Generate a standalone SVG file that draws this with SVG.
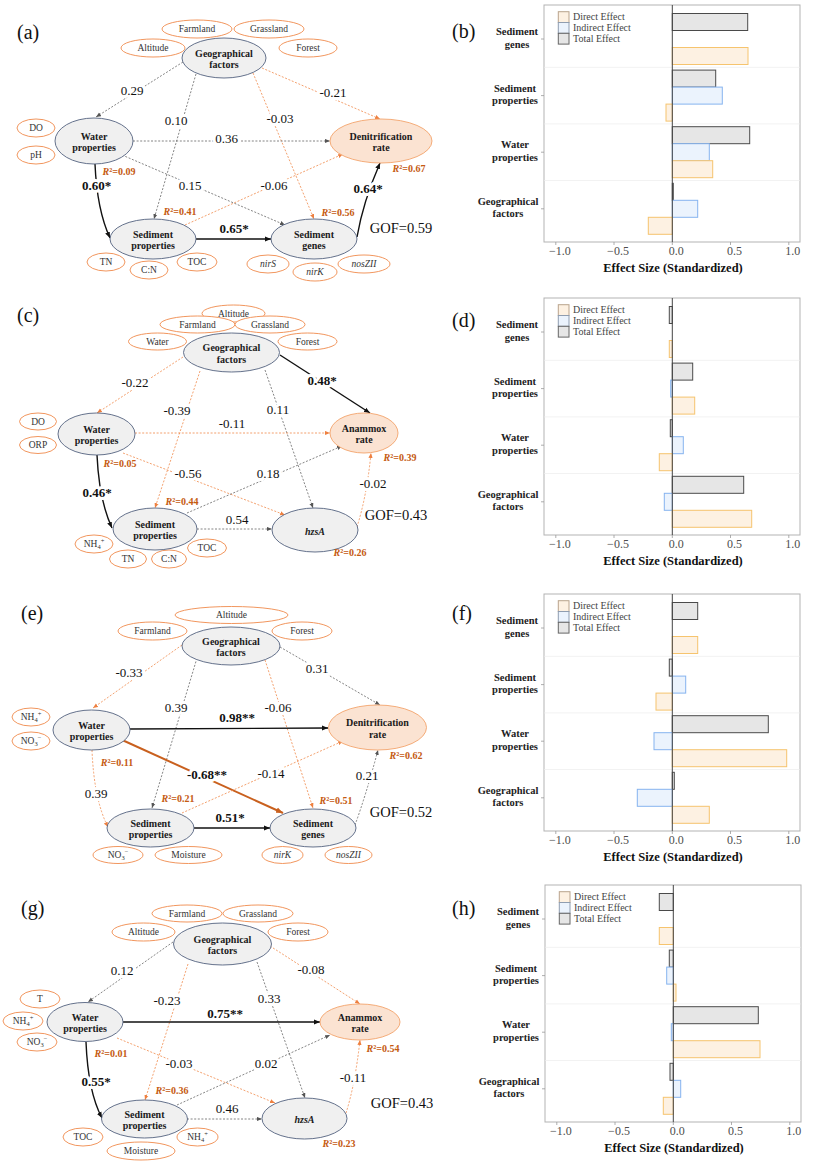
<svg xmlns="http://www.w3.org/2000/svg" width="836" height="1165" viewBox="0 0 836 1165">
<defs>
<style>
text{font-family:"Liberation Serif","Times New Roman",serif}
.pan{font-size:20px;fill:#111}
.sm{fill:#fff;stroke:#ef8a4c;stroke-width:0.9}
.st{font-size:9.5px;fill:#333;text-anchor:middle}
.it{font-style:italic}
.nd{fill:#f0f0f0;stroke:#53627f;stroke-width:0.9}
.ndo{fill:#fbe3d2;stroke:#f3a46c;stroke-width:0.9}
.nt{font-size:10px;font-weight:bold;fill:#1a1a1a;text-anchor:middle}
.dg{fill:none;stroke:#666;stroke-width:0.8;stroke-dasharray:2 1.6}
.do{fill:none;stroke:#f0894a;stroke-width:0.8;stroke-dasharray:2 1.6}
.sb{fill:none;stroke:#111;stroke-width:1.4}
.so{fill:none;stroke:#c9601e;stroke-width:2}
.pl{font-size:13px;fill:#111;text-anchor:middle;paint-order:stroke;stroke:#fff;stroke-width:6px;stroke-linejoin:round}
.pb{font-weight:bold}
.r2{font-size:10px;font-weight:bold;fill:#c55a11;text-anchor:middle}
.gof{font-size:14.5px;fill:#111;text-anchor:middle}
.pf{fill:#fff;stroke:#b3b3b3;stroke-width:1}
.bd{fill:#fdf1e2;stroke:#f6c46e;stroke-width:1}
.bi{fill:#ebf3fd;stroke:#86b3ef;stroke-width:1}
.bt{fill:#e6e6e6;stroke:#4a4a4a;stroke-width:1}
.kd{fill:#fdf1e2;stroke:#b9a38c;stroke-width:1}
.ki{fill:#ebf3fd;stroke:#8f9db0;stroke-width:1}
.kt{fill:#e6e6e6;stroke:#666;stroke-width:1}
.sep{stroke:#f2f2f2;stroke-width:1}
.zl{stroke:#444;stroke-width:1}
.tk{stroke:#999;stroke-width:0.8}
.xl{font-size:12px;fill:#4d4d4d;text-anchor:middle}
.xt{font-size:12.5px;font-weight:bold;fill:#111;text-anchor:middle}
.yl{font-size:10.5px;font-weight:bold;fill:#222;text-anchor:middle}
.lg{font-size:10px;fill:#444}
</style>
<marker id="ag" viewBox="0 0 6 6" refX="6" refY="3" markerWidth="5" markerHeight="5" orient="auto" markerUnits="userSpaceOnUse"><path d="M0,0.5 L6,3 L0,5.5 z" fill="#555"/></marker>
<marker id="ao" viewBox="0 0 6 6" refX="6" refY="3" markerWidth="5" markerHeight="5" orient="auto" markerUnits="userSpaceOnUse"><path d="M0,0.5 L6,3 L0,5.5 z" fill="#ee8040"/></marker>
<marker id="ab" viewBox="0 0 6 6" refX="6" refY="3" markerWidth="6" markerHeight="6" orient="auto" markerUnits="userSpaceOnUse"><path d="M0,0.5 L6,3 L0,5.5 z" fill="#111"/></marker>
<marker id="ar" viewBox="0 0 6 6" refX="6" refY="3" markerWidth="7" markerHeight="7" orient="auto" markerUnits="userSpaceOnUse"><path d="M0,0.5 L6,3 L0,5.5 z" fill="#c9601e"/></marker>
</defs>
<rect x="0" y="0" width="836" height="1165" fill="#fff"/>

<!-- ================= Panel (a) ================= -->
<g id="panel-a">
<text class="pan" x="17" y="39">(a)</text>
<g id="a-connectors">
<path class="dg" d="M183,62 L96,117" marker-end="url(#ag)"/>
<path class="dg" d="M196,74 L154,219" marker-end="url(#ag)"/>
<path class="do" d="M253,73 L314,219" marker-end="url(#ao)"/>
<path class="do" d="M262,68 L380,119" marker-end="url(#ao)"/>
<path class="dg" d="M133,141 L330,141" marker-end="url(#ag)"/>
<path class="dg" d="M122,155 L285,225" marker-end="url(#ag)"/>
<path class="do" d="M185,225 L343,154" marker-end="url(#ao)"/>
<path class="sb" d="M95,164 Q97,210 110,238" marker-end="url(#ab)"/>
<path class="sb" d="M196,239 L271,239" marker-end="url(#ab)"/>
<path class="sb" d="M357,237 Q363,202 380,163" marker-end="url(#ab)"/>
<text class="pl" x="132" y="94.5">0.29</text>
<text class="pl" x="176" y="124.5">0.10</text>
<text class="pl" x="280" y="123">-0.03</text>
<text class="pl" x="333" y="96.5">-0.21</text>
<text class="pl" x="226.5" y="142.5">0.36</text>
<text class="pl" x="190" y="189.5">0.15</text>
<text class="pl" x="274" y="189.5">-0.06</text>
<text class="pl pb" x="96.5" y="190">0.60*</text>
<text class="pl pb" x="234" y="233">0.65*</text>
<text class="pl pb" x="368" y="193">0.64*</text>
</g>
<g id="a-farmland"><ellipse class="sm" cx="197" cy="29" rx="35" ry="9"/><text class="st" x="197" y="32.3">Farmland</text></g>
<g id="a-grassland"><ellipse class="sm" cx="269" cy="29" rx="35" ry="9"/><text class="st" x="269" y="32.3">Grassland</text></g>
<g id="a-altitude"><ellipse class="sm" cx="153" cy="48" rx="32" ry="9"/><text class="st" x="153" y="51.3">Altitude</text></g>
<g id="a-forest"><ellipse class="sm" cx="308" cy="48" rx="29" ry="9"/><text class="st" x="308" y="51.3">Forest</text></g>
<g id="a-do"><ellipse class="sm" cx="36" cy="128" rx="19" ry="9"/><text class="st" x="36" y="131.3">DO</text></g>
<g id="a-ph"><ellipse class="sm" cx="36" cy="155" rx="19" ry="9"/><text class="st" x="36" y="158.3">pH</text></g>
<g id="a-tn"><ellipse class="sm" cx="106" cy="262" rx="19" ry="9"/><text class="st" x="106" y="265.3">TN</text></g>
<g id="a-cn"><ellipse class="sm" cx="149" cy="270" rx="19" ry="9"/><text class="st" x="149" y="273.3">C:N</text></g>
<g id="a-toc"><ellipse class="sm" cx="197" cy="262" rx="20" ry="9"/><text class="st" x="197" y="265.3">TOC</text></g>
<g id="a-nirs"><ellipse class="sm" cx="268" cy="264" rx="21" ry="9"/><text class="st it" x="268" y="267.3">nirS</text></g>
<g id="a-nirk"><ellipse class="sm" cx="315" cy="272" rx="22" ry="9"/><text class="st it" x="315" y="275.3">nirK</text></g>
<g id="a-noszii"><ellipse class="sm" cx="364" cy="264" rx="26" ry="9"/><text class="st it" x="364" y="267.3">nosZII</text></g>
<g id="a-geo"><ellipse class="nd" cx="224" cy="58" rx="42" ry="20"/><text class="nt" x="224" y="56.5">Geographical</text><text class="nt" x="224" y="68">factors</text></g>
<g id="a-water"><ellipse class="nd" cx="94" cy="141" rx="39" ry="23"/><text class="nt" x="94" y="139.5">Water</text><text class="nt" x="94" y="151">properties</text></g>
<g id="a-denit"><ellipse class="ndo" cx="381" cy="141" rx="51" ry="22"/><text class="nt" x="381" y="139.5">Denitrification</text><text class="nt" x="381" y="151">rate</text></g>
<g id="a-sedprop"><ellipse class="nd" cx="153" cy="239" rx="43" ry="20"/><text class="nt" x="153" y="237.5">Sediment</text><text class="nt" x="153" y="249">properties</text></g>
<g id="a-sedgenes"><ellipse class="nd" cx="314" cy="239" rx="43" ry="20"/><text class="nt" x="314" y="237.5">Sediment</text><text class="nt" x="314" y="249">genes</text></g>
<text class="r2" x="119" y="174.5"><tspan class="it">R</tspan>²=0.09</text>
<text class="r2" x="180" y="215"><tspan class="it">R</tspan>²=0.41</text>
<text class="r2" x="338" y="216"><tspan class="it">R</tspan>²=0.56</text>
<text class="r2" x="409" y="171.5"><tspan class="it">R</tspan>²=0.67</text>
<text class="gof" x="401" y="233">GOF=0.59</text>
</g>

<!-- ================= Panel (c) ================= -->
<g id="panel-c">
<text class="pan" x="17" y="322">(c)</text>
<g id="c-connectors">
<path class="do" d="M183,357 L97,413" marker-end="url(#ao)"/>
<path class="do" d="M200,371 L155,508" marker-end="url(#ao)"/>
<path class="dg" d="M265,370 L313,508" marker-end="url(#ag)"/>
<path class="sb" d="M280,355 L370,413" marker-end="url(#ab)"/>
<path class="do" d="M135,433 L330,433" marker-end="url(#ao)"/>
<path class="do" d="M123,453 L285,515" marker-end="url(#ao)"/>
<path class="dg" d="M187,513 L342,446" marker-end="url(#ag)"/>
<path class="dg" d="M197,529 L272,529" marker-end="url(#ag)"/>
<path class="do" d="M357,527 Q367,495 371,453" marker-end="url(#ao)"/>
<path class="sb" d="M97,455 Q99,500 112,528" marker-end="url(#ab)"/>
<text class="pl" x="135" y="386.5">-0.22</text>
<text class="pl" x="177" y="414.5">-0.39</text>
<text class="pl" x="278" y="413.5">0.11</text>
<text class="pl pb" x="322" y="384.5">0.48*</text>
<text class="pl" x="232" y="427.5">-0.11</text>
<text class="pl" x="188" y="477.5">-0.56</text>
<text class="pl" x="268" y="477.5">0.18</text>
<text class="pl" x="237" y="523.5">0.54</text>
<text class="pl" x="373" y="487.5">-0.02</text>
<text class="pl pb" x="97" y="496.5">0.46*</text>
</g>
<g id="c-altitude"><ellipse class="sm" cx="233.5" cy="313.5" rx="31.5" ry="8.5"/><text class="st" x="233.5" y="316.8">Altitude</text></g>
<g id="c-farmland"><ellipse class="sm" cx="197.5" cy="324.5" rx="37.5" ry="8.5"/><text class="st" x="197.5" y="327.8">Farmland</text></g>
<g id="c-grassland"><ellipse class="sm" cx="270" cy="324.5" rx="35" ry="8.5"/><text class="st" x="270" y="327.8">Grassland</text></g>
<g id="c-water"><ellipse class="sm" cx="157.5" cy="341.5" rx="29" ry="8.5"/><text class="st" x="157.5" y="344.8">Water</text></g>
<g id="c-forest"><ellipse class="sm" cx="307.5" cy="341.5" rx="29.5" ry="8.5"/><text class="st" x="307.5" y="344.8">Forest</text></g>
<g id="c-do"><ellipse class="sm" cx="38" cy="421.5" rx="18.5" ry="8.5"/><text class="st" x="38" y="424.8">DO</text></g>
<g id="c-orp"><ellipse class="sm" cx="38" cy="445" rx="18.5" ry="8.5"/><text class="st" x="38" y="448.3">ORP</text></g>
<g id="c-nh4"><ellipse class="sm" cx="94" cy="544" rx="19" ry="9"/><text class="st" x="94" y="547.3">NH<tspan font-size="6.5" dy="2">4</tspan><tspan font-size="6.5" dy="-6">+</tspan></text></g>
<g id="c-tn"><ellipse class="sm" cx="128" cy="559" rx="18.5" ry="9"/><text class="st" x="128" y="562.3">TN</text></g>
<g id="c-cn"><ellipse class="sm" cx="169" cy="559" rx="17.5" ry="9"/><text class="st" x="169" y="562.3">C:N</text></g>
<g id="c-toc"><ellipse class="sm" cx="207" cy="548" rx="19.5" ry="9"/><text class="st" x="207" y="551.3">TOC</text></g>
<g id="c-geo"><ellipse class="nd" cx="231.5" cy="352.5" rx="48" ry="19.5"/><text class="nt" x="231.5" y="351">Geographical</text><text class="nt" x="231.5" y="362.5">factors</text></g>
<g id="c-water-prop"><ellipse class="nd" cx="96.5" cy="434" rx="38.5" ry="21"/><text class="nt" x="96.5" y="432.5">Water</text><text class="nt" x="96.5" y="444">properties</text></g>
<g id="c-anammox"><ellipse class="ndo" cx="364" cy="433" rx="34" ry="20"/><text class="nt" x="364" y="431.5">Anammox</text><text class="nt" x="364" y="443">rate</text></g>
<g id="c-sedprop"><ellipse class="nd" cx="155" cy="529" rx="42" ry="21"/><text class="nt" x="155" y="527.5">Sediment</text><text class="nt" x="155" y="539">properties</text></g>
<g id="c-hzsa"><ellipse class="nd" cx="315" cy="530" rx="43" ry="22"/><text class="nt it" x="315" y="534.5" font-size="12">hzsA</text></g>
<text class="r2" x="120" y="466.5"><tspan class="it">R</tspan>²=0.05</text>
<text class="r2" x="182" y="504.5"><tspan class="it">R</tspan>²=0.44</text>
<text class="r2" x="400" y="460.5"><tspan class="it">R</tspan>²=0.39</text>
<text class="r2" x="350" y="555.5"><tspan class="it">R</tspan>²=0.26</text>
<text class="gof" x="396" y="520">GOF=0.43</text>
</g>

<!-- ================= Panel (e) ================= -->
<g id="panel-e">
<text class="pan" x="21" y="620">(e)</text>
<g id="e-connectors">
<path class="do" d="M182,645 L93,708" marker-end="url(#ao)"/>
<path class="dg" d="M197,658 L152,808" marker-end="url(#ag)"/>
<path class="do" d="M265,660 L313,808" marker-end="url(#ao)"/>
<path class="dg" d="M280,647 L380,705" marker-end="url(#ag)"/>
<path class="sb" d="M130,729 L328,728" marker-end="url(#ab)"/>
<path class="so" d="M120,739 L283,813" marker-end="url(#ar)"/>
<path class="do" d="M92,750 Q94,800 108,827" marker-end="url(#ao)"/>
<path class="do" d="M182,813 L343,741" marker-end="url(#ao)"/>
<path class="sb" d="M194,828 L270,828" marker-end="url(#ab)"/>
<path class="dg" d="M355,825 Q366,795 378,750" marker-end="url(#ag)"/>
<text class="pl" x="129" y="676.5">-0.33</text>
<text class="pl" x="176" y="711.5">0.39</text>
<text class="pl" x="278" y="711.5">-0.06</text>
<text class="pl" x="317" y="672.5">0.31</text>
<text class="pl pb" x="237" y="721.5">0.98**</text>
<text class="pl pb" x="207" y="778.5">-0.68**</text>
<text class="pl" x="271" y="777.5">-0.14</text>
<text class="pl" x="96" y="797.5">0.39</text>
<text class="pl" x="367" y="779.5">0.21</text>
<text class="pl pb" x="230" y="821.5">0.51*</text>
</g>
<g id="e-altitude"><ellipse class="sm" cx="231.5" cy="615" rx="56.5" ry="8.5"/><text class="st" x="231.5" y="618.3">Altitude</text></g>
<g id="e-farmland"><ellipse class="sm" cx="152.5" cy="631" rx="34.5" ry="9"/><text class="st" x="152.5" y="634.3">Farmland</text></g>
<g id="e-forest"><ellipse class="sm" cx="302" cy="631" rx="30" ry="9"/><text class="st" x="302" y="634.3">Forest</text></g>
<g id="e-nh4"><ellipse class="sm" cx="31" cy="717" rx="19" ry="9"/><text class="st" x="31" y="720.3">NH<tspan font-size="6.5" dy="2">4</tspan><tspan font-size="6.5" dy="-6">+</tspan></text></g>
<g id="e-no3"><ellipse class="sm" cx="31" cy="741" rx="19" ry="9"/><text class="st" x="31" y="744.3">NO<tspan font-size="6.5" dy="2">3</tspan><tspan font-size="6.5" dy="-6">−</tspan></text></g>
<g id="e-no3s"><ellipse class="sm" cx="118" cy="855" rx="25" ry="8.5"/><text class="st" x="118" y="858.3">NO<tspan font-size="6.5" dy="2">3</tspan><tspan font-size="6.5" dy="-6">−</tspan></text></g>
<g id="e-moisture"><ellipse class="sm" cx="188.5" cy="855" rx="33.5" ry="8.5"/><text class="st" x="188.5" y="858.3">Moisture</text></g>
<g id="e-nirk"><ellipse class="sm" cx="282.5" cy="855" rx="20.5" ry="8.5"/><text class="st it" x="282.5" y="858.3">nirK</text></g>
<g id="e-noszii"><ellipse class="sm" cx="348.5" cy="855" rx="23.5" ry="8.5"/><text class="st it" x="348.5" y="858.3">nosZII</text></g>
<g id="e-geo"><ellipse class="nd" cx="231" cy="646" rx="49" ry="19"/><text class="nt" x="231" y="644.5">Geographical</text><text class="nt" x="231" y="656">factors</text></g>
<g id="e-water"><ellipse class="nd" cx="91.5" cy="730" rx="38.5" ry="20"/><text class="nt" x="91.5" y="728.5">Water</text><text class="nt" x="91.5" y="740">properties</text></g>
<g id="e-denit"><ellipse class="ndo" cx="377.5" cy="727.5" rx="49" ry="22.5"/><text class="nt" x="377.5" y="726">Denitrification</text><text class="nt" x="377.5" y="737.5">rate</text></g>
<g id="e-sedprop"><ellipse class="nd" cx="150.5" cy="828" rx="43.5" ry="19"/><text class="nt" x="150.5" y="826.5">Sediment</text><text class="nt" x="150.5" y="838">properties</text></g>
<g id="e-sedgenes"><ellipse class="nd" cx="313" cy="828" rx="43" ry="19"/><text class="nt" x="313" y="826.5">Sediment</text><text class="nt" x="313" y="838">genes</text></g>
<text class="r2" x="117" y="765.5"><tspan class="it">R</tspan>²=0.11</text>
<text class="r2" x="178" y="801.5"><tspan class="it">R</tspan>²=0.21</text>
<text class="r2" x="336" y="803.5"><tspan class="it">R</tspan>²=0.51</text>
<text class="r2" x="406" y="758.5"><tspan class="it">R</tspan>²=0.62</text>
<text class="gof" x="401" y="817">GOF=0.52</text>
</g>

<!-- ================= Panel (g) ================= -->
<g id="panel-g">
<text class="pan" x="21" y="915">(g)</text>
<g id="g-connectors">
<path class="dg" d="M173,942 L88,1002" marker-end="url(#ag)"/>
<path class="do" d="M188,964 L145,1100" marker-end="url(#ao)"/>
<path class="dg" d="M257,962 L305,1098" marker-end="url(#ag)"/>
<path class="do" d="M270,946 L360,1004" marker-end="url(#ao)"/>
<path class="sb" d="M123,1022 L320,1022" marker-end="url(#ab)"/>
<path class="do" d="M117,1038 L275,1103" marker-end="url(#ao)"/>
<path class="dg" d="M177,1105 L330,1035" marker-end="url(#ag)"/>
<path class="dg" d="M187,1119 L262,1119" marker-end="url(#ag)"/>
<path class="do" d="M346,1113 Q355,1085 360,1040" marker-end="url(#ao)"/>
<path class="sb" d="M86,1042 Q88,1092 102,1118" marker-end="url(#ab)"/>
<text class="pl" x="122" y="974.5">0.12</text>
<text class="pl" x="167" y="1004.5">-0.23</text>
<text class="pl" x="269" y="1002.5">0.33</text>
<text class="pl" x="311" y="973.5">-0.08</text>
<text class="pl pb" x="225" y="1017.5">0.75**</text>
<text class="pl" x="179" y="1067.5">-0.03</text>
<text class="pl" x="266" y="1067.5">0.02</text>
<text class="pl" x="353" y="1081.5">-0.11</text>
<text class="pl pb" x="96" y="1085.5">0.55*</text>
<text class="pl" x="227" y="1112.5">0.46</text>
</g>
<g id="g-farmland"><ellipse class="sm" cx="187" cy="913.5" rx="35" ry="8.5"/><text class="st" x="187" y="916.8">Farmland</text></g>
<g id="g-grassland"><ellipse class="sm" cx="258" cy="913.5" rx="35" ry="8.5"/><text class="st" x="258" y="916.8">Grassland</text></g>
<g id="g-altitude"><ellipse class="sm" cx="143.5" cy="932" rx="31.5" ry="9"/><text class="st" x="143.5" y="935.3">Altitude</text></g>
<g id="g-forest"><ellipse class="sm" cx="298" cy="932" rx="30" ry="9"/><text class="st" x="298" y="935.3">Forest</text></g>
<g id="g-t"><ellipse class="sm" cx="40" cy="999" rx="20" ry="9"/><text class="st" x="40" y="1002.3">T</text></g>
<g id="g-nh4"><ellipse class="sm" cx="23" cy="1021" rx="20" ry="9"/><text class="st" x="23" y="1024.3">NH<tspan font-size="6.5" dy="2">4</tspan><tspan font-size="6.5" dy="-6">+</tspan></text></g>
<g id="g-no3"><ellipse class="sm" cx="37" cy="1042" rx="20" ry="9"/><text class="st" x="37" y="1045.3">NO<tspan font-size="6.5" dy="2">3</tspan><tspan font-size="6.5" dy="-6">−</tspan></text></g>
<g id="g-toc"><ellipse class="sm" cx="83" cy="1137" rx="20" ry="9"/><text class="st" x="83" y="1140.3">TOC</text></g>
<g id="g-moisture"><ellipse class="sm" cx="141" cy="1151" rx="34" ry="9"/><text class="st" x="141" y="1154.3">Moisture</text></g>
<g id="g-nh4s"><ellipse class="sm" cx="197.5" cy="1137" rx="20.5" ry="9"/><text class="st" x="197.5" y="1140.3">NH<tspan font-size="6.5" dy="2">4</tspan><tspan font-size="6.5" dy="-6">+</tspan></text></g>
<g id="g-geo"><ellipse class="nd" cx="222.5" cy="944" rx="49" ry="21"/><text class="nt" x="222.5" y="942.5">Geographical</text><text class="nt" x="222.5" y="954">factors</text></g>
<g id="g-water"><ellipse class="nd" cx="85" cy="1022" rx="38" ry="19.5"/><text class="nt" x="85" y="1020.5">Water</text><text class="nt" x="85" y="1032">properties</text></g>
<g id="g-anammox"><ellipse class="ndo" cx="360" cy="1022" rx="40" ry="18"/><text class="nt" x="360" y="1020.5">Anammox</text><text class="nt" x="360" y="1032">rate</text></g>
<g id="g-sedprop"><ellipse class="nd" cx="144.5" cy="1119" rx="43" ry="19"/><text class="nt" x="144.5" y="1117.5">Sediment</text><text class="nt" x="144.5" y="1129">properties</text></g>
<g id="g-hzsa"><ellipse class="nd" cx="304.5" cy="1118.5" rx="42.5" ry="20.5"/><text class="nt it" x="304.5" y="1123" font-size="12">hzsA</text></g>
<text class="r2" x="111" y="1056.5"><tspan class="it">R</tspan>²=0.01</text>
<text class="r2" x="172" y="1093.5"><tspan class="it">R</tspan>²=0.36</text>
<text class="r2" x="383" y="1051.5"><tspan class="it">R</tspan>²=0.54</text>
<text class="r2" x="339" y="1146.5"><tspan class="it">R</tspan>²=0.23</text>
<text class="gof" x="402" y="1108">GOF=0.43</text>
</g>

<!-- ================= Panel (b) ================= -->
<g id="panel-b">
<text class="pan" x="452" y="38">(b)</text>
<rect class="pf" x="544" y="5" width="256" height="237"/>
<line class="sep" x1="544.5" y1="67.3" x2="799.5" y2="67.3"/>
<line class="sep" x1="544.5" y1="123.9" x2="799.5" y2="123.9"/>
<line class="sep" x1="544.5" y1="180.5" x2="799.5" y2="180.5"/>
<rect class="bt" x="672.3" y="13.5" width="75.4" height="17"/>
<rect class="bd" x="672.3" y="47.5" width="75.7" height="17"/>
<rect class="bt" x="672.3" y="70.1" width="43.4" height="17"/>
<rect class="bi" x="672.3" y="87.1" width="50" height="17"/>
<rect class="bd" x="666" y="104.1" width="6.3" height="17"/>
<rect class="bt" x="672.3" y="126.7" width="77.4" height="17"/>
<rect class="bi" x="672.3" y="143.7" width="37" height="17"/>
<rect class="bd" x="672.3" y="160.7" width="40.4" height="17"/>
<rect class="bt" x="672.3" y="183.3" width="1" height="17"/>
<rect class="bi" x="672.3" y="200.3" width="25.4" height="17"/>
<rect class="bd" x="648.3" y="217.3" width="24" height="17"/>
<line class="zl" x1="672.3" y1="5" x2="672.3" y2="242"/>
<rect class="kd" x="558.3" y="11.7" width="10.7" height="10.8"/>
<rect class="ki" x="558.3" y="22.5" width="10.7" height="10.8"/>
<rect class="kt" x="558.3" y="33.3" width="10.7" height="10.8"/>
<text class="lg" x="573" y="20.2">Direct Effect</text>
<text class="lg" x="573" y="31">Indirect Effect</text>
<text class="lg" x="573" y="41.8">Total Effect</text>
<g class="tk"><line x1="541" y1="39" x2="544" y2="39"/><line x1="541" y1="95.6" x2="544" y2="95.6"/><line x1="541" y1="152.2" x2="544" y2="152.2"/><line x1="541" y1="208.8" x2="544" y2="208.8"/>
<line x1="555.8" y1="242" x2="555.8" y2="245"/><line x1="614" y1="242" x2="614" y2="245"/><line x1="672.3" y1="242" x2="672.3" y2="245"/><line x1="730.5" y1="242" x2="730.5" y2="245"/><line x1="788.8" y1="242" x2="788.8" y2="245"/></g>
<text class="yl" x="517" y="35">Sediment</text><text class="yl" x="517" y="47.5">genes</text>
<text class="yl" x="515" y="91.6">Sediment</text><text class="yl" x="515" y="104.1">properties</text>
<text class="yl" x="515" y="148.2">Water</text><text class="yl" x="515" y="160.7">properties</text>
<text class="yl" x="508" y="204.8">Geographical</text><text class="yl" x="508" y="217.3">factors</text>
<text class="xl" x="559.8" y="254.5">−1.0</text>
<text class="xl" x="618" y="254.5">−0.5</text>
<text class="xl" x="676.3" y="254.5">0.0</text>
<text class="xl" x="734.5" y="254.5">0.5</text>
<text class="xl" x="792.8" y="254.5">1.0</text>
<text class="xt" x="673" y="272">Effect Size (Standardized)</text>
</g>

<!-- ================= Panel (d) ================= -->
<g id="panel-d">
<text class="pan" x="452" y="327">(d)</text>
<rect class="pf" x="544" y="298" width="256" height="237"/>
<line class="sep" x1="544.5" y1="360.3" x2="799.5" y2="360.3"/>
<line class="sep" x1="544.5" y1="416.9" x2="799.5" y2="416.9"/>
<line class="sep" x1="544.5" y1="473.5" x2="799.5" y2="473.5"/>
<rect class="bt" x="669.3" y="306.5" width="3" height="17"/>
<rect class="bd" x="669.3" y="340.5" width="3" height="17"/>
<rect class="bt" x="672.3" y="363.1" width="20.4" height="17"/>
<rect class="bi" x="670.7" y="380.1" width="1.6" height="17"/>
<rect class="bd" x="672.3" y="397.1" width="22.4" height="17"/>
<rect class="bt" x="670.3" y="419.7" width="2" height="17"/>
<rect class="bi" x="672.3" y="436.7" width="11" height="17"/>
<rect class="bd" x="659.3" y="453.7" width="13" height="17"/>
<rect class="bt" x="672.3" y="476.3" width="71.4" height="17"/>
<rect class="bi" x="664.3" y="493.3" width="8" height="17"/>
<rect class="bd" x="672.3" y="510.3" width="79.4" height="17"/>
<line class="zl" x1="672.3" y1="298" x2="672.3" y2="535"/>
<rect class="kd" x="558.3" y="304.7" width="10.7" height="10.8"/>
<rect class="ki" x="558.3" y="315.5" width="10.7" height="10.8"/>
<rect class="kt" x="558.3" y="326.3" width="10.7" height="10.8"/>
<text class="lg" x="573" y="313.2">Direct Effect</text>
<text class="lg" x="573" y="324">Indirect Effect</text>
<text class="lg" x="573" y="334.8">Total Effect</text>
<g class="tk"><line x1="541" y1="332" x2="544" y2="332"/><line x1="541" y1="388.6" x2="544" y2="388.6"/><line x1="541" y1="445.2" x2="544" y2="445.2"/><line x1="541" y1="501.8" x2="544" y2="501.8"/>
<line x1="555.8" y1="535" x2="555.8" y2="538"/><line x1="614" y1="535" x2="614" y2="538"/><line x1="672.3" y1="535" x2="672.3" y2="538"/><line x1="730.5" y1="535" x2="730.5" y2="538"/><line x1="788.8" y1="535" x2="788.8" y2="538"/></g>
<text class="yl" x="517" y="328">Sediment</text><text class="yl" x="517" y="340.5">genes</text>
<text class="yl" x="515" y="384.6">Sediment</text><text class="yl" x="515" y="397.1">properties</text>
<text class="yl" x="515" y="441.2">Water</text><text class="yl" x="515" y="453.7">properties</text>
<text class="yl" x="508" y="497.8">Geographical</text><text class="yl" x="508" y="510.3">factors</text>
<text class="xl" x="559.8" y="547.5">−1.0</text>
<text class="xl" x="618" y="547.5">−0.5</text>
<text class="xl" x="676.3" y="547.5">0.0</text>
<text class="xl" x="734.5" y="547.5">0.5</text>
<text class="xl" x="792.8" y="547.5">1.0</text>
<text class="xt" x="673" y="565">Effect Size (Standardized)</text>
</g>

<!-- ================= Panel (f) ================= -->
<g id="panel-f">
<text class="pan" x="452" y="620">(f)</text>
<rect class="pf" x="544" y="594" width="256" height="237"/>
<line class="sep" x1="544.5" y1="656.3" x2="799.5" y2="656.3"/>
<line class="sep" x1="544.5" y1="712.9" x2="799.5" y2="712.9"/>
<line class="sep" x1="544.5" y1="769.5" x2="799.5" y2="769.5"/>
<rect class="bt" x="672.3" y="602.5" width="25.4" height="17"/>
<rect class="bd" x="672.3" y="636.5" width="25.4" height="17"/>
<rect class="bt" x="669.3" y="659.1" width="3" height="17"/>
<rect class="bi" x="672.3" y="676.1" width="13.4" height="17"/>
<rect class="bd" x="656" y="693.1" width="16.3" height="17"/>
<rect class="bt" x="672.3" y="715.7" width="96" height="17"/>
<rect class="bi" x="654" y="732.7" width="18.3" height="17"/>
<rect class="bd" x="672.3" y="749.7" width="114.4" height="17"/>
<rect class="bt" x="672.3" y="772.3" width="2" height="17"/>
<rect class="bi" x="637.3" y="789.3" width="35" height="17"/>
<rect class="bd" x="672.3" y="806.3" width="37" height="17"/>
<line class="zl" x1="672.3" y1="594" x2="672.3" y2="831"/>
<rect class="kd" x="558.3" y="600.7" width="10.7" height="10.8"/>
<rect class="ki" x="558.3" y="611.5" width="10.7" height="10.8"/>
<rect class="kt" x="558.3" y="622.3" width="10.7" height="10.8"/>
<text class="lg" x="573" y="609.2">Direct Effect</text>
<text class="lg" x="573" y="620">Indirect Effect</text>
<text class="lg" x="573" y="630.8">Total Effect</text>
<g class="tk"><line x1="541" y1="628" x2="544" y2="628"/><line x1="541" y1="684.6" x2="544" y2="684.6"/><line x1="541" y1="741.2" x2="544" y2="741.2"/><line x1="541" y1="797.8" x2="544" y2="797.8"/>
<line x1="555.8" y1="831" x2="555.8" y2="834"/><line x1="614" y1="831" x2="614" y2="834"/><line x1="672.3" y1="831" x2="672.3" y2="834"/><line x1="730.5" y1="831" x2="730.5" y2="834"/><line x1="788.8" y1="831" x2="788.8" y2="834"/></g>
<text class="yl" x="517" y="624">Sediment</text><text class="yl" x="517" y="636.5">genes</text>
<text class="yl" x="515" y="680.6">Sediment</text><text class="yl" x="515" y="693.1">properties</text>
<text class="yl" x="515" y="737.2">Water</text><text class="yl" x="515" y="749.7">properties</text>
<text class="yl" x="508" y="793.8">Geographical</text><text class="yl" x="508" y="806.3">factors</text>
<text class="xl" x="559.8" y="843.5">−1.0</text>
<text class="xl" x="618" y="843.5">−0.5</text>
<text class="xl" x="676.3" y="843.5">0.0</text>
<text class="xl" x="734.5" y="843.5">0.5</text>
<text class="xl" x="792.8" y="843.5">1.0</text>
<text class="xt" x="673" y="861">Effect Size (Standardized)</text>
</g>

<!-- ================= Panel (h) ================= -->
<g id="panel-h">
<text class="pan" x="452" y="915">(h)</text>
<g transform="translate(1,0)">
<rect class="pf" x="544" y="885" width="256" height="237"/>
<line class="sep" x1="544.5" y1="947.3" x2="799.5" y2="947.3"/>
<line class="sep" x1="544.5" y1="1003.9" x2="799.5" y2="1003.9"/>
<line class="sep" x1="544.5" y1="1060.5" x2="799.5" y2="1060.5"/>
<rect class="bt" x="658.3" y="893.5" width="14" height="17"/>
<rect class="bd" x="658.3" y="927.5" width="14" height="17"/>
<rect class="bt" x="668.3" y="950.1" width="4" height="17"/>
<rect class="bi" x="665.7" y="967.1" width="6.6" height="17"/>
<rect class="bd" x="672.3" y="984.1" width="2.7" height="17"/>
<rect class="bt" x="672.3" y="1006.7" width="85" height="17"/>
<rect class="bi" x="670.3" y="1023.7" width="2" height="17"/>
<rect class="bd" x="672.3" y="1040.7" width="86.7" height="17"/>
<rect class="bt" x="669" y="1063.3" width="3.3" height="17"/>
<rect class="bi" x="672.3" y="1080.3" width="7.4" height="17"/>
<rect class="bd" x="662.3" y="1097.3" width="10" height="17"/>
<line class="zl" x1="672.3" y1="885" x2="672.3" y2="1122"/>
<rect class="kd" x="558.3" y="891.7" width="10.7" height="10.8"/>
<rect class="ki" x="558.3" y="902.5" width="10.7" height="10.8"/>
<rect class="kt" x="558.3" y="913.3" width="10.7" height="10.8"/>
<text class="lg" x="573" y="900.2">Direct Effect</text>
<text class="lg" x="573" y="911">Indirect Effect</text>
<text class="lg" x="573" y="921.8">Total Effect</text>
<g class="tk"><line x1="541" y1="919" x2="544" y2="919"/><line x1="541" y1="975.6" x2="544" y2="975.6"/><line x1="541" y1="1032.2" x2="544" y2="1032.2"/><line x1="541" y1="1088.8" x2="544" y2="1088.8"/>
<line x1="555.8" y1="1122" x2="555.8" y2="1125"/><line x1="614" y1="1122" x2="614" y2="1125"/><line x1="672.3" y1="1122" x2="672.3" y2="1125"/><line x1="730.5" y1="1122" x2="730.5" y2="1125"/><line x1="788.8" y1="1122" x2="788.8" y2="1125"/></g>
<text class="yl" x="517" y="915">Sediment</text><text class="yl" x="517" y="927.5">genes</text>
<text class="yl" x="515" y="971.6">Sediment</text><text class="yl" x="515" y="984.1">properties</text>
<text class="yl" x="515" y="1028.2">Water</text><text class="yl" x="515" y="1040.7">properties</text>
<text class="yl" x="508" y="1084.8">Geographical</text><text class="yl" x="508" y="1097.3">factors</text>
<text class="xl" x="559.8" y="1134.5">−1.0</text>
<text class="xl" x="618" y="1134.5">−0.5</text>
<text class="xl" x="676.3" y="1134.5">0.0</text>
<text class="xl" x="734.5" y="1134.5">0.5</text>
<text class="xl" x="792.8" y="1134.5">1.0</text>
<text class="xt" x="673" y="1152">Effect Size (Standardized)</text>
</g>
</g>
</svg>
